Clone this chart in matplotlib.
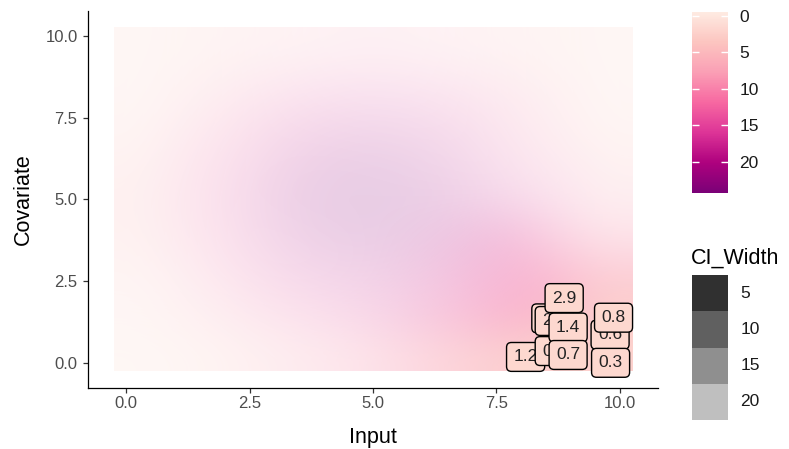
import numpy as np
import matplotlib
matplotlib.use('Agg')
import matplotlib.pyplot as plt
from matplotlib.colors import LinearSegmentedColormap, Normalize
from matplotlib.cm import ScalarMappable

plt.rcParams['font.family'] = ['Liberation Sans', 'DejaVu Sans']

## raster cell centres (rows listed from the top: y = 9.5 down to 0.5)
x_centres = [0.5, 2.0, 3.5, 5.0, 6.5, 8.0, 9.5]
y_centres = [9.5, 8.0, 6.5, 5.0, 3.5, 2.0, 0.5]

## predicted value -> fill colour
fill_vals = [
    [1, 3, 6, 8, 6, 3, 1],
    [1, 7, 14, 17, 14, 7, 1],
    [2, 12, 19, 22, 19, 10, 2],
    [4, 14, 22, 24, 21, 16, 6],
    [3, 12, 20, 22, 18, 13, 8],
    [2, 8, 14, 17, 14, 12, 4],
    [0, 2, 7, 8, 6, 4, 3],
]

## CI width -> alpha
ci_vals = [
    [20.0, 21.3, 22.7, 22.7, 22.7, 21.3, 20.0],
    [20.0, 21.3, 22.1, 22.7, 22.4, 21.3, 20.0],
    [20.0, 21.9, 21.6, 21.7, 22.1, 22.1, 20.0],
    [20.5, 21.9, 21.3, 21.3, 21.6, 22.1, 21.3],
    [20.5, 21.9, 22.0, 21.6, 20.0, 15.5, 18.1],
    [21.3, 21.3, 21.6, 21.6, 18.7, 13.3, 5.9],
    [18.7, 20.0, 20.8, 19.2, 13.3, 5.9, 4.0],
]

## labelled observations
lab_x = [8.60, 8.67, 8.09, 8.67, 8.95, 8.95, 8.87, 9.80, 9.87, 9.81]
lab_y = [1.36, 1.28, 0.18, 0.36, 1.08, 0.24, 1.98, 0.86, 1.38, 0.00]
lab_txt = ['2.3', '2.1', '1.2', '0.9', '1.4', '0.7', '2.9', '0.6', '0.8', '0.3']

## legends
fill_ticks = [0, 5, 10, 15, 20]
ci_levels = [5, 10, 15, 20]

## scales
rdpu7 = ['#feebe2', '#fcc5c0', '#fa9fb5', '#f768a1', '#dd3497', '#ae017e', '#7a0177']
cmap = LinearSegmentedColormap.from_list('rdpu', rdpu7)
norm = Normalize(vmin=-0.55, vmax=24.3)
ci_lim = (0.0, 24.0)
alpha_range = (1.0, 0.1)

def alpha_of(ci):
    f = (np.asarray(ci, dtype=float) - ci_lim[0]) / (ci_lim[1] - ci_lim[0])
    return alpha_range[0] + f * (alpha_range[1] - alpha_range[0])

W, H = 789, 449
fig = plt.figure(figsize=(W / 100, H / 100), dpi=100)
ax = fig.add_axes([88 / W, 1 - 388 / H, 570 / W, 377.3 / H])

rgba = cmap(norm(np.array(fill_vals, dtype=float)))
rgba[..., 3] = alpha_of(ci_vals)
dx = x_centres[1] - x_centres[0]
dy = y_centres[0] - y_centres[1]
ext = (x_centres[0] - dx / 2, x_centres[-1] + dx / 2,
       y_centres[-1] - dy / 2, y_centres[0] + dy / 2)
ax.imshow(rgba, extent=ext, origin='upper', interpolation='bicubic', aspect='auto')

for xx, yy, t in zip(lab_x, lab_y, lab_txt):
    ax.text(xx, yy, t, ha='center', va='center', fontsize=12.5, color='#222222',
            bbox=dict(boxstyle='round,pad=0.4,rounding_size=0.28',
                      fc='#fdd8cf', ec='black', lw=1.0))

ax.set_xlim(-0.77, 10.77)
ax.set_ylim(-0.77, 10.77)
ax.set_xticks([0, 2.5, 5, 7.5, 10])
ax.set_yticks([0, 2.5, 5, 7.5, 10])
ax.set_xticklabels(['0.0', '2.5', '5.0', '7.5', '10.0'])
ax.set_yticklabels(['0.0', '2.5', '5.0', '7.5', '10.0'])
for s in ['top', 'right']:
    ax.spines[s].set_visible(False)
for s in ['left', 'bottom']:
    ax.spines[s].set_linewidth(0.9)
ax.tick_params(length=3.5, width=0.9, color='#333333', labelcolor='#4d4d4d',
               labelsize=12)
ax.tick_params(axis='x', pad=2.5)
ax.tick_params(axis='y', pad=4)
ax.set_xlabel('Input', fontsize=15.5, labelpad=11)
ax.set_ylabel('Covariate', fontsize=15.5, labelpad=8)

## fill colourbar
cax = fig.add_axes([691.7 / W, 1 - 193 / H, 36.6 / W, 181.3 / H])
cb = fig.colorbar(ScalarMappable(norm=norm, cmap=cmap), cax=cax, ticks=fill_ticks)
cb.outline.set_visible(False)
cb.minorticks_off()
cax.invert_yaxis()
cax.tick_params(axis='y', direction='in', color='white', length=5, width=1,
                left=True, right=True, labelleft=False, labelright=True,
                labelsize=12.5, labelcolor='#1a1a1a', pad=8)

## alpha legend
lax = fig.add_axes([691.7 / W, 1 - 420 / H, 36.6 / W, 145 / H])
n = len(ci_levels)
for i, lv in enumerate(ci_levels):
    lax.bar(0.5, 1, width=1, bottom=n - 1 - i, color='black', alpha=float(alpha_of(lv)))
lax.set_xlim(0, 1)
lax.set_ylim(0, n)
lax.axis('off')
for i, lv in enumerate(ci_levels):
    lax.text(1.33, n - 0.5 - i, str(lv), ha='left', va='center', fontsize=12.5,
             color='#1a1a1a', transform=lax.transData)
fig.text(691 / W, 1 - 264 / H, 'CI_Width', fontsize=15.5, ha='left', va='baseline')

fig.savefig('out.png', dpi=100)
